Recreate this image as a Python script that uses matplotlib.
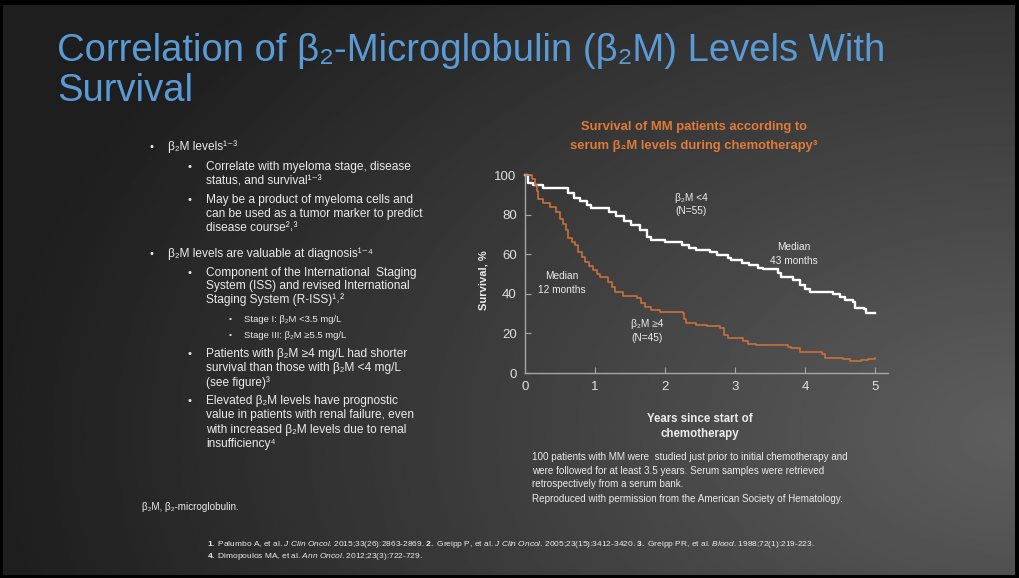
import matplotlib
matplotlib.use('Agg')
import matplotlib.pyplot as plt
from matplotlib.patches import Rectangle
import numpy as np

W, H = 1019, 578
SANS = ['Liberation Sans', 'DejaVu Sans']
plt.rcParams['font.family'] = SANS
plt.rcParams['mathtext.fontset'] = 'custom'
plt.rcParams['mathtext.rm'] = 'Liberation Sans'
plt.rcParams['mathtext.it'] = 'Liberation Sans:italic'
plt.rcParams['mathtext.bf'] = 'Liberation Sans:bold'

# survival (%) vs years since start of chemotherapy, step changes
low_t = [0, 0.04, 0.12, 0.26, 0.62, 0.70, 0.78, 0.88, 0.95, 1.20, 1.30, 1.42,
         1.52, 1.64, 1.74, 1.80, 2.00, 2.24, 2.34, 2.45, 2.64, 2.74, 2.90,
         2.95, 3.10, 3.20, 3.33, 3.40, 3.62, 3.66, 3.83, 3.93, 4.00, 4.07,
         4.40, 4.50, 4.57, 4.69, 4.72, 4.84, 4.87, 5.00]
low_s = [100, 96, 95, 93.5, 91, 88.5, 87, 85, 83.5, 81.5, 79.5, 77,
         74.5, 72, 68.5, 67, 66, 64.5, 63, 62, 61, 59.5, 58,
         57, 55.5, 54.5, 53, 52.5, 50.5, 48.5, 47, 44.5, 42.5, 41,
         40, 38.5, 37, 36, 33, 32.5, 30.5, 30.5]
high_t = [0, 0.10, 0.15, 0.17, 0.19, 0.26, 0.36, 0.45, 0.50, 0.55, 0.58, 0.62,
          0.67, 0.71, 0.76, 0.81, 0.86, 0.92, 0.97, 1.03, 1.07, 1.19, 1.24,
          1.28, 1.40, 1.60, 1.66, 1.72, 1.80, 1.93, 2.26, 2.27, 2.30, 2.45,
          2.60, 2.78, 2.84, 2.90, 3.12, 3.19, 3.30, 3.76, 3.80, 3.93, 4.24,
          4.29, 4.55, 4.64, 4.80, 4.90, 5.00]
high_s = [100, 98, 95, 92, 88, 86, 84, 81.5, 78, 75.5, 72, 68,
          66, 64.5, 61, 58.5, 56, 54, 52, 50, 48.5, 46, 43.5,
          41, 39, 38, 35.5, 33.5, 32, 31, 30.5, 27.5, 25.5, 24,
          23.5, 22.5, 19, 17.5, 16, 14.5, 14, 13, 12.5, 10.5, 9.5,
          7.5, 7, 6, 6.5, 7, 7.5]
x_ticks = [0, 1, 2, 3, 4, 5]
y_ticks = [0, 20, 40, 60, 80, 100]

fig = plt.figure(figsize=(W / 100, H / 100), dpi=100)

# slide background: dark on the left, lighter toward lower right
bg = fig.add_axes([0, 0, 1, 1])
yy, xx = np.mgrid[0:1:300j, 0:1:500j]
d = np.hypot((xx - 1.0) * 1.15, (yy - 0.75))
v = 0.37 - 0.25 * np.clip(d / 1.15, 0, 1)
bg.imshow(v, cmap='gray', vmin=0, vmax=1, extent=[0, 1, 0, 1],
          aspect='auto', origin='upper', interpolation='bilinear')
bg.set_xlim(0, 1); bg.set_ylim(0, 1); bg.axis('off')
for r in [(0, 1 - 5 / H, 1, 5 / H), (0, 0, 1, 3 / H),
          (0, 0, 3 / W, 1), (1 - 4 / W, 0, 4 / W, 1)]:
    bg.add_patch(Rectangle(r[:2], r[2], r[3], color='black', lw=0))


def t(px, py, s, **kw):
    kw.setdefault('va', 'center')
    kw.setdefault('color', '#ececec')
    return fig.text(px / W, 1 - py / H, s, **kw)


# title
BLUE = '#5b9bd5'
t(57, 51, 'Correlation of β₂-Microglobulin (β₂M) Levels With',
  fontsize=27.5, color=BLUE)
t(57, 91, 'Survival', fontsize=27.5, color=BLUE)

# bullet list
FS = 8.6
bul = [
    (0, 147, 'β₂M levels¹⁻³'),
    (1, 167, 'Correlate with myeloma stage, disease'),
    (None, 181, 'status, and survival¹⁻³'),
    (1, 200, 'May be a product of myeloma cells and'),
    (None, 214, 'can be used as a tumor marker to predict'),
    (None, 228, 'disease course²˒³'),
    (0, 254, 'β₂M levels are valuable at diagnosis¹⁻⁴'),
    (1, 273, 'Component of the International  Staging'),
    (None, 286, 'System (ISS) and revised International'),
    (None, 300, 'Staging System (R-ISS)¹˒²'),
    (2, 320, 'Stage I: β₂M <3.5 mg/L'),
    (2, 336, 'Stage III: β₂M ≥5.5 mg/L'),
    (1, 354, 'Patients with β₂M ≥4 mg/L had shorter'),
    (None, 368, 'survival than those with β₂M <4 mg/L'),
    (None, 383, '(see figure)³'),
    (1, 401, 'Elevated β₂M levels have prognostic'),
    (None, 415, 'value in patients with renal failure, even'),
    (None, 430, 'with increased β₂M levels due to renal'),
    (None, 444, 'insufficiency⁴'),
]
dot_x = {0: 150, 1: 188, 2: 229}
txt_x = {0: 168, 1: 206, 2: 244}
last = 0
for lvl, py, s in bul:
    if lvl is not None:
        last = lvl
        t(dot_x[lvl], py, '•', fontsize=FS - (2.5 if lvl == 2 else 0.5))
    t(txt_x[last], py, s, fontsize=FS - (1.8 if last == 2 else 0))

# survival chart
ORANGE = '#e07b39'
t(694, 127, 'Survival of MM patients according to', fontsize=9.4,
  color=ORANGE, weight='bold', ha='center')
t(694, 146, 'serum β₂M levels during chemotherapy³', fontsize=9.4,
  color=ORANGE, weight='bold', ha='center')

ax = fig.add_axes([525 / W, 1 - 373 / H, 363 / W, 198 / H])
ax.patch.set_alpha(0)
ax.step(low_t, low_s, where='post', color='white', lw=1.7, clip_on=False)
ax.step(high_t, high_s, where='post', color='#c8713a', lw=1.2, clip_on=False)
ax.set_xlim(0, 5.186)
ax.set_ylim(0, 100)
ax.set_xticks(x_ticks)
ax.set_yticks(y_ticks)
for s in ['top', 'right']:
    ax.spines[s].set_visible(False)
for s in ['left', 'bottom']:
    ax.spines[s].set_color('#a6a6a6')
    ax.spines[s].set_linewidth(1)
ax.tick_params(direction='in', length=4, color='#a6a6a6',
               labelcolor='#e0e0e0', labelsize=9.5, pad=6)

t(484, 280, 'Survival, %', fontsize=8, weight='bold', rotation=90,
  ha='center')
t(700, 419, 'Years since start of', fontsize=8.3, weight='bold', ha='center')
t(700, 434, 'chemotherapy', fontsize=8.3, weight='bold', ha='center')

AN = 7.3
t(675, 198, 'β₂M <4', fontsize=AN)
t(675, 211, '(N=55)', fontsize=AN)
t(794, 247, 'Median', fontsize=AN, ha='center')
t(794, 261, '43 months', fontsize=AN, ha='center')
t(562, 276, 'Median', fontsize=AN, ha='center')
t(562, 290, '12 months', fontsize=AN, ha='center')
t(631, 324, 'β₂M ≥4', fontsize=AN)
t(631, 338, '(N=45)', fontsize=AN)

# notes and references
NF = 7.1
t(532, 457, '100 patients with MM were  studied just prior to initial chemotherapy and', fontsize=NF)
t(532, 471, 'were followed for at least 3.5 years. Serum samples were retrieved', fontsize=NF)
t(532, 484, 'retrospectively from a serum bank.', fontsize=NF)
t(532, 499, 'Reproduced with permission from the American Society of Hematology.', fontsize=NF)
t(142, 507, 'β₂M, β₂-microglobulin.', fontsize=NF)

t(207, 545, r'$\mathbf{1.}$ Palumbo A, et al. $\mathit{J\ Clin\ Oncol}$. 2015;33(26):2863-2869. '
  r'$\mathbf{2.}$ Greipp P, et al. $\mathit{J\ Clin\ Oncol}$. 2005;23(15):3412-3420. '
  r'$\mathbf{3.}$ Greipp PR, et al. $\mathit{Blood}$. 1988;72(1):219-223.', fontsize=6)
t(207, 557, r'$\mathbf{4.}$ Dimopoulos MA, et al. $\mathit{Ann\ Oncol}$. 2012;23(3):722-729.',
  fontsize=6)

fig.savefig('out.png', dpi=100)
